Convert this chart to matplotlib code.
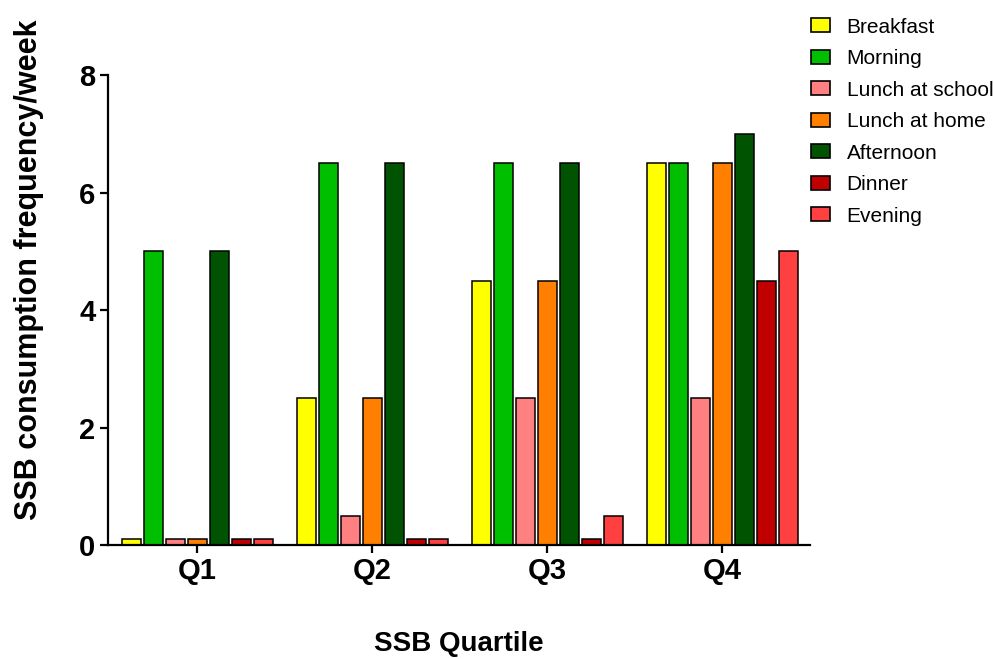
import numpy as np
import matplotlib
matplotlib.use("Agg")
import matplotlib.pyplot as plt

plt.rcParams['font.family'] = ['Liberation Sans', 'DejaVu Sans']

quartiles = ["Q1", "Q2", "Q3", "Q4"]
meals = ["Breakfast", "Morning", "Lunch at school", "Lunch at home",
         "Afternoon", "Dinner", "Evening"]
colors = ["#FFFF00", "#00BF00", "#FF8080", "#FF8000", "#005300", "#C00000", "#FF4040"]

breakfast = [0.1, 2.5, 4.5, 6.5]
morning = [5.0, 6.5, 6.5, 6.5]
lunch_school = [0.1, 0.5, 2.5, 2.5]
lunch_home = [0.1, 2.5, 4.5, 6.5]
afternoon = [5.0, 6.5, 6.5, 7.0]
dinner = [0.1, 0.1, 0.1, 4.5]
evening = [0.1, 0.1, 0.5, 5.0]
series = [breakfast, morning, lunch_school, lunch_home, afternoon, dinner, evening]

fig = plt.figure(figsize=(9.94, 6.59), dpi=100)
ax = fig.add_axes([0.1087, 0.173, 0.706, 0.713])

x = np.arange(len(quartiles))
step = 0.126
width = 0.108
for k, (vals, name, c) in enumerate(zip(series, meals, colors)):
    ax.bar(x + (k - 3) * step, vals, width, color=c, edgecolor="black",
           linewidth=1.1, label=name)

ax.set_xlim(-0.51, 3.5)
ax.set_ylim(0, 8)
ax.set_yticks([0, 2, 4, 6, 8])
ax.set_xticks(x)
ax.set_xticklabels(quartiles, fontsize=21, fontweight="bold")
ax.set_yticklabels(["0", "2", "4", "6", "8"], fontsize=21, fontweight="bold")

ax.spines["top"].set_visible(False)
ax.spines["right"].set_visible(False)
ax.spines["left"].set_linewidth(1.6)
ax.spines["bottom"].set_linewidth(1.6)
ax.tick_params(axis="both", direction="out", length=6, width=1.6, pad=3)

ax.set_ylabel("SSB consumption frequency/week", fontsize=22, fontweight="bold")
ax.yaxis.set_label_coords(-0.091, 0.585)
ax.set_xlabel("SSB Quartile", fontsize=20, fontweight="bold")
ax.xaxis.set_label_coords(0.5, -0.183)

leg = ax.legend(loc="upper left", bbox_to_anchor=(0.99, 1.14), frameon=False,
                fontsize=15, handlelength=0.9, handleheight=0.65,
                labelspacing=0.6, handletextpad=0.8, borderaxespad=0)
for h in leg.legend_handles:
    h.set_linewidth(1.2)

fig.savefig("out.png", dpi=100)
